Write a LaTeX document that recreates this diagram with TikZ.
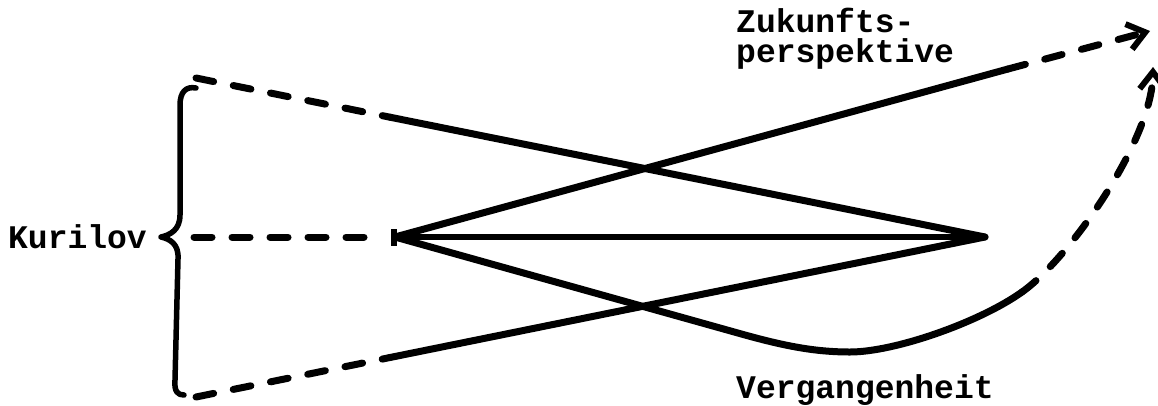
\documentclass[tikz,border=0pt]{standalone}
\usepackage{fontspec}
\newfontfamily\tw{Liberation Mono}
\usetikzlibrary{arrows.meta}
\begin{document}
\begin{tikzpicture}[x=1pt,y=-1pt,
  lbl/.style={font=\tw\bfseries\fontsize{33}{36}\selectfont, inner sep=0pt, anchor=base west},
  sol/.style={line width=7pt, line cap=round, line join=round},
  thin sol/.style={line width=5.5pt, line cap=round},
  dsh/.style={line width=7pt, line cap=round, dash pattern=on 18pt off 20pt},
  tipped/.style={-{Straight Barb[length=17pt,width=26pt,line width=6pt]}},
  bracestyle/.style={line width=5.5pt, line cap=round, line join=round}]
\useasboundingbox (0,0) rectangle (1158,405);

% text labels
\node[lbl] (kur) at (8,248) {Kurilov};
\node[lbl] (zuk) at (736,32) {Zukunfts-};
\node[lbl] (per) at (736,62) {perspektive};
\node[lbl] (ver) at (736,398) {Vergangenheit};

% key points
\coordinate (TL) at (196,78);
\coordinate (T1) at (390,117.2);
\coordinate (BL) at (196,397);
\coordinate (B1) at (390,357.5);
\coordinate (ML) at (194,237);
\coordinate (M1) at (382,237);
\coordinate (L) at (395,237);
\coordinate (R) at (985,237);
\coordinate (U1) at (1008,69);
\coordinate (UT) at (1150,31);
\coordinate (P1) at (745,335);
\coordinate (P2) at (850,352);
\coordinate (P3) at (1022,292);
\coordinate (BT) at (1153,67);

% brace
\draw[bracestyle] (196,88) .. controls (186,86) and (180,92) .. (180,105)
  -- (180,215) .. controls (180,230) and (170,235) .. (161,237)
  .. controls (170,239) and (179,244) .. (178,259)
  -- (175,380) .. controls (174,392) and (178,395) .. (184,395);

% dashed starts
\draw[dsh] (TL) -- (T1);
\draw[dsh] (BL) -- (B1);
\draw[dsh] (ML) -- (M1);

% solid lines to right vertex
\draw[sol] (T1) -- (R);
\draw[sol] (B1) -- (R);
\draw[thin sol] (L) -- (R);

% left vertex bar
\draw[line width=6pt] (394,229) -- (394,246);

% future line
\draw[sol] (L) -- (U1);
\draw[dsh, tipped] (U1) -- (UT);

% past curve
\draw[sol] (L) -- (P1) .. controls (785,346) and (815,352) .. (P2)
  .. controls (895,352) and (980,322) .. (P3);
\draw[dsh, tipped] (P3) .. controls (1070,258) and (1152,140) .. (BT);
\end{tikzpicture}
\end{document}
